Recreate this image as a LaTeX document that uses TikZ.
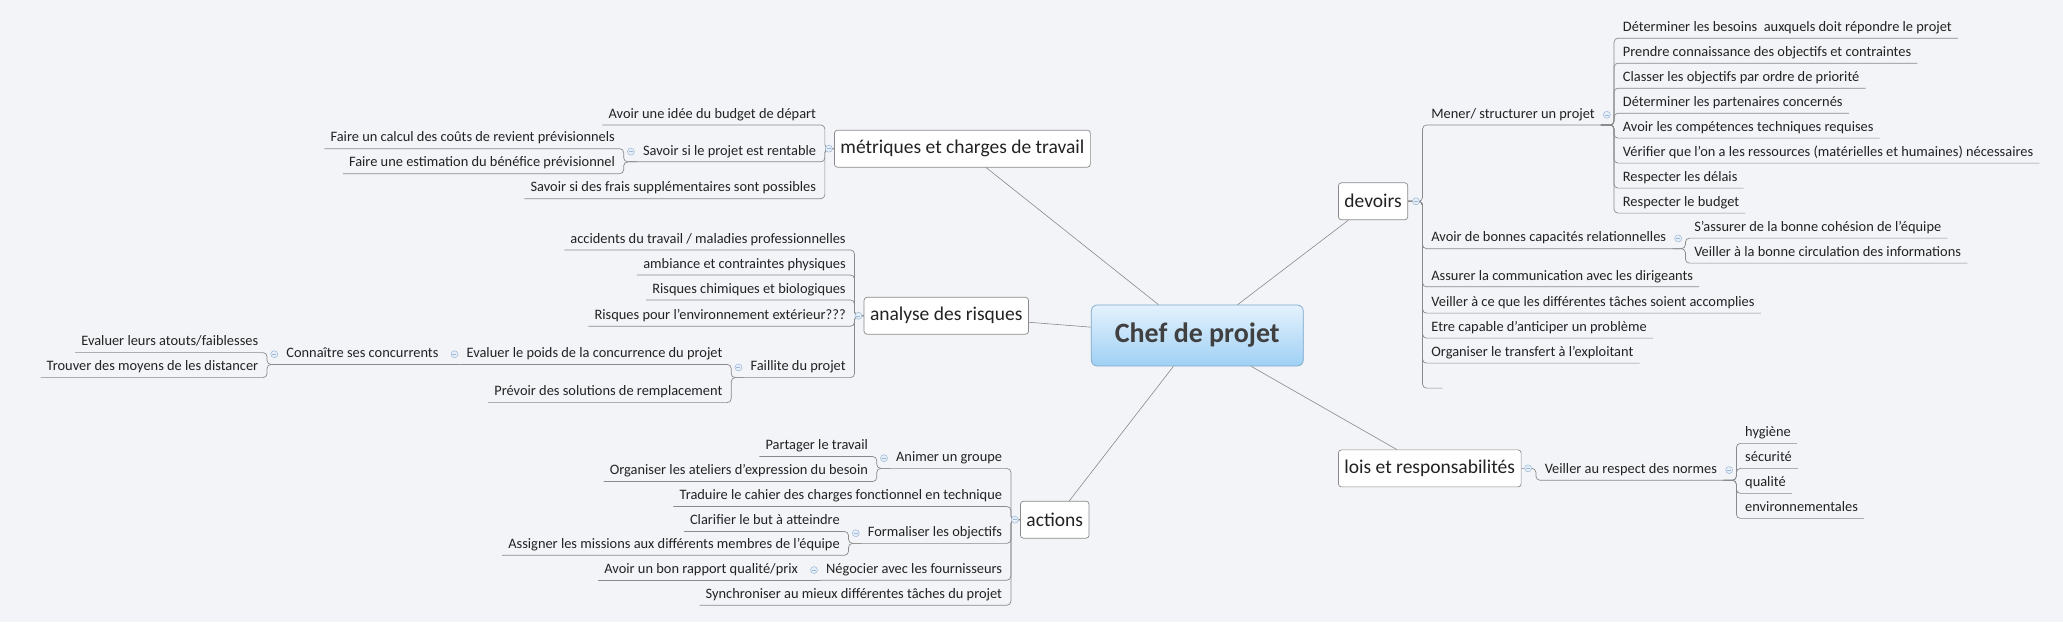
\documentclass[tikz,border=0pt]{standalone}
\usepackage{fontspec}
\setmainfont{Carlito}
\usetikzlibrary{calc}
\definecolor{bg}{HTML}{F2F4F7}
\definecolor{ln}{HTML}{8A8A8A}
\definecolor{txt}{HTML}{222222}
\definecolor{tgl}{HTML}{9DB7D6}
\definecolor{tglf}{HTML}{E6EEF8}
\definecolor{chtop}{HTML}{E4F2FD}
\definecolor{chbot}{HTML}{9FD0F4}
\definecolor{chdraw}{HTML}{7AA6CB}
\begin{document}
\begin{tikzpicture}[x=1.316pt,y=-1.316pt,
  leafL/.style={anchor=south east, font=\fontsize{14.4}{16}\selectfont, text=txt, inner xsep=6pt, inner ysep=3.5pt, text height=10pt, text depth=3pt},
  leafR/.style={leafL, anchor=south west},
  topic/.style={draw=ln, fill=white, rounded corners=3pt, font=\fontsize{19.5}{22}\selectfont, text=txt, inner xsep=6pt, minimum height=37pt, line width=0.7pt},
  chefbox/.style={draw=chdraw, top color=chtop, bottom color=chbot, rounded corners=6pt, font=\fontsize{28}{32}\selectfont\bfseries, text=black!75, minimum width=212pt, minimum height=61pt, line width=0.7pt},
  conn/.style={draw=ln, line width=0.7pt, rounded corners=4pt},
  branch/.style={draw=ln, line width=0.6pt},
  tog/.style={circle, draw=tgl, fill=tglf, minimum size=7pt, inner sep=0pt, line width=0.5pt,
    path picture={\draw[tgl,line width=0.5pt] ([xshift=-2pt]path picture bounding box.center) -- ([xshift=2pt]path picture bounding box.center);}}
]
\fill[bg] (0,0) rectangle (1568,473);
\useasboundingbox (0,0) rectangle (1568,473);

% central and main topics
\node[chefbox] (chef) at (910,255) {Chef de projet};
\node[topic, anchor=east] (metr) at (829,113) {métriques et charges de travail};
\node[topic, anchor=east] (anal) at (782,240) {analyse des risques};
\node[topic, anchor=east] (act) at (828,395) {actions};
\node[topic, anchor=west] (dev) at (1017,153) {devoirs};
\node[topic, anchor=west] (lois) at (1017,356) {lois et responsabilités};
\draw[branch] (chef) -- (metr);
\draw[branch] (chef) -- (anal);
\draw[branch] (chef) -- (act);
\draw[branch] (chef) -- (dev);
\draw[branch] (chef) -- (lois);

% ---- métriques
\node[leafL] (m1) at ($(metr.west)+(-9,-18)$) {Avoir une idée du budget de départ};
\node[leafL] (m2) at ($(metr.west)+(-9,10)$) {Savoir si le projet est rentable};
\node[leafL] (m3) at ($(metr.west)+(-9,38)$) {Savoir si des frais supplémentaires sont possibles};
\foreach \c in {m1,m2,m3} \draw[conn] (metr.west) -- ++(-7,0) |- (\c.south west);
\node[leafL] (m21) at ($(m2.south west)+(-12,-10)$) {Faire un calcul des coûts de revient prévisionnels};
\node[leafL] (m22) at ($(m2.south west)+(-12,9)$) {Faire une estimation du bénéfice prévisionnel};
\foreach \c in {m21,m22} \draw[conn] (m2.south west) -- ++(-10,0) |- (\c.south west);

% ---- analyse des risques
\node[leafL] (a1) at ($(anal.west)+(-9,-50)$) {accidents du travail / maladies professionnelles};
\node[leafL] (a2) at ($(anal.west)+(-9,-31)$) {ambiance et contraintes physiques};
\node[leafL] (a3) at ($(anal.west)+(-9,-12)$) {Risques chimiques et biologiques};
\node[leafL] (a4) at ($(anal.west)+(-9,8)$) {Risques pour l'environnement extérieur???};
\node[leafL] (a5) at ($(anal.west)+(-9,47)$) {Faillite du projet};
\foreach \c in {a1,a2,a3,a4,a5} \draw[conn] (anal.west) -- ++(-7,0) |- (\c.south west);
\node[leafL] (f1) at ($(a5.south west)+(-12,-10)$) {Evaluer le poids de la concurrence du projet};
\node[leafL] (f2) at ($(a5.south west)+(-12,19)$) {Prévoir des solutions de remplacement};
\foreach \c in {f1,f2} \draw[conn] (a5.south west) -- ++(-10,0) |- (\c.south west);
\node[leafL] (k1) at ($(f1.south west)+(-12,0)$) {Connaître ses concurrents};
\draw[conn] (f1.south west) -- (k1.south west);
\node[leafL] (k11) at ($(k1.south west)+(-12,-9)$) {Evaluer leurs atouts/faiblesses};
\node[leafL] (k12) at ($(k1.south west)+(-12,10)$) {Trouver des moyens de les distancer};
\foreach \c in {k11,k12} \draw[conn] (k1.south west) -- ++(-10,0) |- (\c.south west);

% ---- actions
\node[leafL] (c1) at ($(act.west)+(-9,-39)$) {Animer un groupe};
\node[leafL] (c2) at ($(act.west)+(-9,-10)$) {Traduire le cahier des charges fonctionnel en technique};
\node[leafL] (c3) at ($(act.west)+(-9,18)$) {Formaliser les objectifs};
\node[leafL] (c4) at ($(act.west)+(-9,46)$) {Négocier avec les fournisseurs};
\node[leafL] (c5) at ($(act.west)+(-9,65)$) {Synchroniser au mieux différentes tâches du projet};
\foreach \c in {c1,c2,c3,c4,c5} \draw[conn] (act.west) -- ++(-7,0) |- (\c.south west);
\node[leafL] (c11) at ($(c1.south west)+(-12,-9)$) {Partager le travail};
\node[leafL] (c12) at ($(c1.south west)+(-12,10)$) {Organiser les ateliers d'expression du besoin};
\foreach \c in {c11,c12} \draw[conn] (c1.south west) -- ++(-10,0) |- (\c.south west);
\node[leafL] (c31) at ($(c3.south west)+(-12,-9)$) {Clarifier le but à atteindre};
\node[leafL] (c32) at ($(c3.south west)+(-12,9)$) {Assigner les missions aux différents membres de l'équipe};
\foreach \c in {c31,c32} \draw[conn] (c3.south west) -- ++(-10,0) |- (\c.south west);
\node[leafL] (c41) at ($(c4.south west)+(-12,0)$) {Avoir un bon rapport qualité/prix};
\draw[conn] (c4.south west) -- (c41.south west);

% ---- devoirs
\node[leafR] (d1) at ($(dev.east)+(13,-58)$) {Mener/ structurer un projet};
\node[leafR] (d2) at ($(dev.east)+(13,36)$) {Avoir de bonnes capacités relationnelles};
\node[leafR] (d3) at ($(dev.east)+(13,65)$) {Assurer la communication avec les dirigeants};
\node[leafR] (d4) at ($(dev.east)+(13,85)$) {Veiller à ce que les différentes tâches soient accomplies};
\node[leafR] (d5) at ($(dev.east)+(13,104)$) {Etre capable d'anticiper un problème};
\node[leafR] (d6) at ($(dev.east)+(13,123)$) {Organiser le transfert à l'exploitant};
\coordinate (d7) at ($(dev.east)+(26,142)$);
\foreach \c in {d1,d2,d3,d4,d5,d6} \draw[conn] (dev.east) -- ++(11,0) |- (\c.south east);
\draw[conn] (dev.east) -- ++(11,0) |- (d7);
\node[leafR] (d11) at ($(d1.south east)+(12,-66)$) {Déterminer les besoins\ \ auxquels doit répondre le projet};
\node[leafR] (d12) at ($(d1.south east)+(12,-47)$) {Prendre connaissance des objectifs et contraintes};
\node[leafR] (d13) at ($(d1.south east)+(12,-28)$) {Classer les objectifs par ordre de priorité};
\node[leafR] (d14) at ($(d1.south east)+(12,-9)$) {Déterminer les partenaires concernés};
\node[leafR] (d15) at ($(d1.south east)+(12,10)$) {Avoir les compétences techniques requises};
\node[leafR] (d16) at ($(d1.south east)+(12,29)$) {Vérifier que l'on a les ressources (matérielles et humaines) nécessaires};
\node[leafR] (d17) at ($(d1.south east)+(12,48)$) {Respecter les délais};
\node[leafR] (d18) at ($(d1.south east)+(12,67)$) {Respecter le budget};
\foreach \c in {d11,d12,d13,d14,d15,d16,d17,d18} \draw[conn] (d1.south east) -- ++(10,0) |- (\c.south east);
\node[leafR] (d21) at ($(d2.south east)+(12,-8)$) {S'assurer de la bonne cohésion de l'équipe};
\node[leafR] (d22) at ($(d2.south east)+(12,11)$) {Veiller à la bonne circulation des informations};
\foreach \c in {d21,d22} \draw[conn] (d2.south east) -- ++(10,0) |- (\c.south east);

% ---- lois
\node[leafR] (l1) at ($(lois.east)+(13,9)$) {Veiller au respect des normes};
\draw[conn] (lois.east) -- ++(11,0) |- (l1.south east);
\node[leafR] (l11) at ($(l1.south east)+(12,-28)$) {hygiène};
\node[leafR] (l12) at ($(l1.south east)+(12,-9)$) {sécurité};
\node[leafR] (l13) at ($(l1.south east)+(12,10)$) {qualité};
\node[leafR] (l14) at ($(l1.south east)+(12,29)$) {environnementales};
\foreach \c in {l11,l12,l13,l14} \draw[conn] (l1.south east) -- ++(10,0) |- (\c.south east);

% ---- collapse toggles
\node[tog] (tm) at ($(metr.west)+(-4,0)$) {};
\node[tog] (ta) at ($(anal.west)+(-4,0)$) {};
\node[tog] (tc) at ($(act.west)+(-4,0)$) {};
\node[tog] (td) at ($(dev.east)+(6,0)$) {};
\node[tog] (tl) at ($(lois.east)+(5,0)$) {};
\foreach \p in {m2,a5,f1,k1,c1,c3,c4} \node[tog] at ($(\p.west)+(-4.5,0)$) {};
\foreach \p in {d1,d2,l1} \node[tog] at ($(\p.east)+(4.5,0)$) {};
\end{tikzpicture}
\end{document}
